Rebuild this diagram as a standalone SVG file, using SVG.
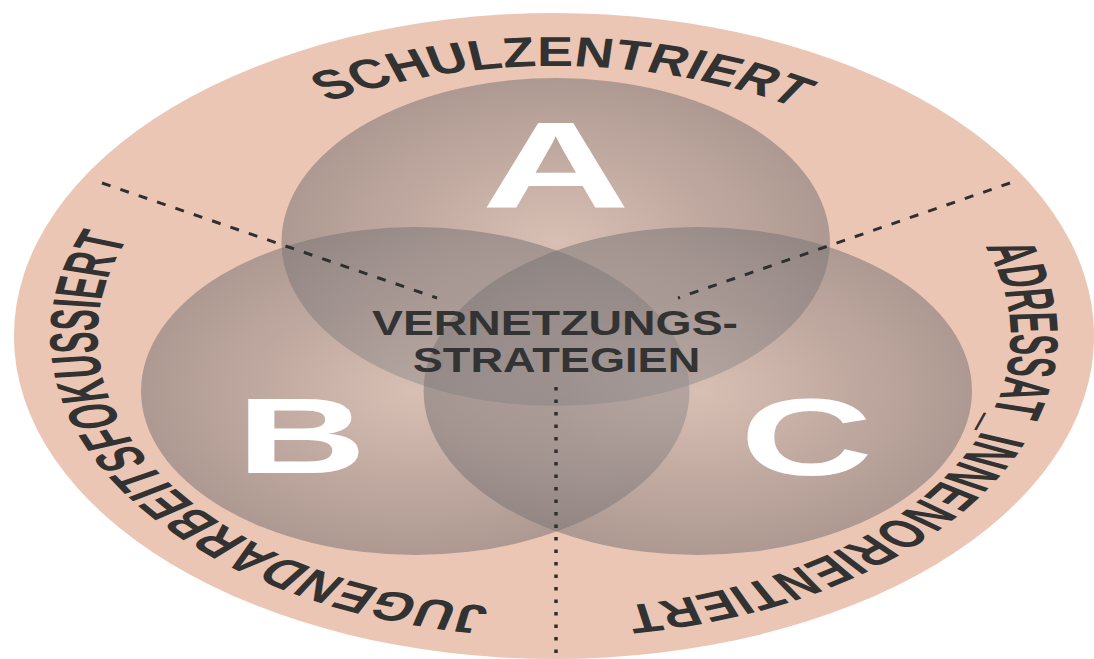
<svg xmlns="http://www.w3.org/2000/svg" xmlns:xlink="http://www.w3.org/1999/xlink" width="1094" height="659" viewBox="0 0 1094 659">
  <defs>
    <style>
      .ring-label { font-family: "Liberation Sans", Arial, sans-serif; font-weight: bold; fill: #323232; }
      .big-letter { font-family: "Liberation Sans", Arial, sans-serif; font-weight: bold; fill: #ffffff; text-anchor: middle; }
      .center-label { font-family: "Liberation Sans", Arial, sans-serif; font-weight: bold; fill: #333333; text-anchor: middle; font-size: 35px; }
      .sector-line { fill: none; stroke: #2f2f2f; stroke-width: 3; stroke-dasharray: 9 10.4; }
      .sector-line-v { fill: none; stroke: #2f2f2f; stroke-width: 3.5; stroke-dasharray: 3.5 9; }
    </style>
    <radialGradient id="lens" cx="0.5" cy="0.5" r="0.5">
      <stop offset="0" stop-color="#bdb5b3" stop-opacity="0.42"/>
      <stop offset="0.55" stop-color="#908989" stop-opacity="0.48"/>
      <stop offset="1" stop-color="#7c7676" stop-opacity="0.56"/>
    </radialGradient>
    <!-- baseline paths in circle space, clockwise -->
    <path id="arc-top" d="M 0 270 A 270 270 0 0 1 0 -270 A 270 270 0 0 1 0 270"/>
    <path id="arc-side" d="M 0 -273 A 273 273 0 0 1 0 273 A 273 273 0 0 1 0 -273"/>
  </defs>

  <!-- whole figure is a circle layout stretched horizontally -->
  <g transform="translate(554 336) scale(1.672 1)">
    <g id="ring">
      <circle cx="0" cy="0" r="323" fill="#ecc6b4"/>
    </g>
    <g id="circle-a">
      <circle cx="1" cy="-94" r="164" fill="url(#lens)"/>
    </g>
    <g id="circle-b">
      <circle cx="-83" cy="55" r="164" fill="url(#lens)"/>
    </g>
    <g id="circle-c">
      <circle cx="86" cy="55" r="164" fill="url(#lens)"/>
    </g>
  </g>

  <g id="connectors">
    <line class="sector-line" x1="102" y1="183" x2="437" y2="298"/>
    <line class="sector-line" x1="1010" y1="183" x2="678" y2="298"/>
    <line class="sector-line-v" x1="556" y1="387" x2="556" y2="659"/>
  </g>

  <g transform="translate(554 336) scale(1.672 1)">
    <g id="label-a">
      <text class="big-letter" x="1" y="-128" font-size="123">A</text>
    </g>
    <g id="label-b">
      <text class="big-letter" x="-151" y="137" font-size="108">B</text>
    </g>
    <g id="label-c">
      <text class="big-letter" x="151" y="139" font-size="110">C</text>
    </g>
    <g id="center-label">
      <text class="center-label" x="0.6" y="-1" textLength="219" lengthAdjust="spacingAndGlyphs">VERNETZUNGS-</text>
      <text class="center-label" x="1.5" y="36" textLength="172" lengthAdjust="spacingAndGlyphs">STRATEGIEN</text>
    </g>
    <g id="ring-top">
      <text class="ring-label" font-size="42" text-anchor="middle"><textPath xlink:href="#arc-top" href="#arc-top" startOffset="853" textLength="293" lengthAdjust="spacingAndGlyphs">SCHULZENTRIERT</textPath></text>
    </g>
    <g id="ring-right">
      <text class="ring-label" font-size="41"><textPath xlink:href="#arc-side" href="#arc-side" startOffset="337" textLength="478" lengthAdjust="spacingAndGlyphs">ADRESSAT_INNENORIENTIERT</textPath></text>
    </g>
    <g id="ring-left">
      <text class="ring-label" font-size="41"><textPath xlink:href="#arc-side" href="#arc-side" startOffset="896" textLength="491" lengthAdjust="spacingAndGlyphs">JUGENDARBEITSFOKUSSIERT</textPath></text>
    </g>
  </g>
</svg>
